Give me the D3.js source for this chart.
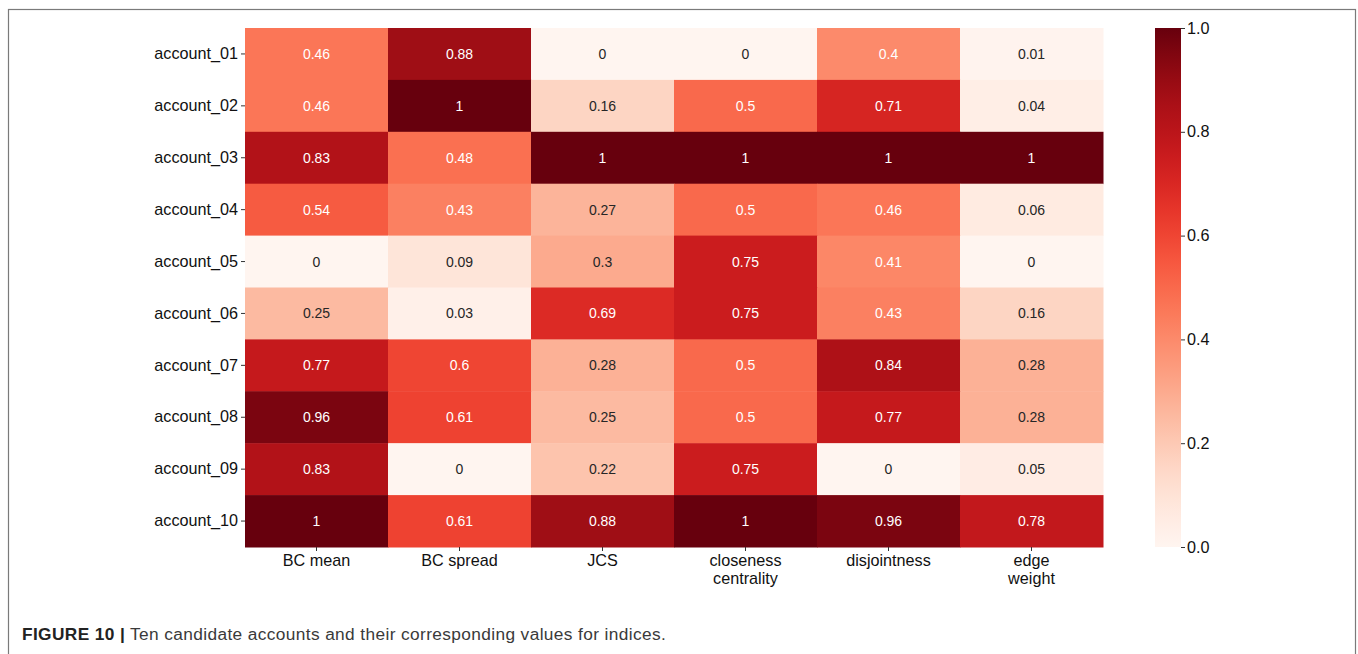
<!DOCTYPE html>
<html>
<head>
<meta charset="utf-8">
<script src="https://cdn.jsdelivr.net/npm/d3@7"></script>
<style>
  html, body { margin: 0; padding: 0; background: #fff; }
  svg { display: block; font-family: "Liberation Sans", Arial, Helvetica, sans-serif; }
</style>
</head>
<body>
<svg id="chart" width="1358" height="654"></svg>
<script>
// Accounts (rows) and indices (columns)
const accounts = ["account_01","account_02","account_03","account_04","account_05",
                  "account_06","account_07","account_08","account_09","account_10"];
const indices = ["BC mean","BC spread","JCS","closeness centrality","disjointness","edge weight"];
const indexLabelLines = [["BC mean"],["BC spread"],["JCS"],["closeness","centrality"],["disjointness"],["edge","weight"]];

// Normalised index values, one array per account
const values = [
  [0.46, 0.88, 0,    0,    0.4,  0.01],
  [0.46, 1,    0.16, 0.5,  0.71, 0.04],
  [0.83, 0.48, 1,    1,    1,    1   ],
  [0.54, 0.43, 0.27, 0.5,  0.46, 0.06],
  [0,    0.09, 0.3,  0.75, 0.41, 0   ],
  [0.25, 0.03, 0.69, 0.75, 0.43, 0.16],
  [0.77, 0.6,  0.28, 0.5,  0.84, 0.28],
  [0.96, 0.61, 0.25, 0.5,  0.77, 0.28],
  [0.83, 0,    0.22, 0.75, 0,    0.05],
  [1,    0.61, 0.88, 1,    0.96, 0.78]
];
const colorbarTicks = [0, 0.2, 0.4, 0.6, 0.8, 1.0];
const captionBold = "FIGURE 10 |";
const captionText = " Ten candidate accounts and their corresponding values for indices.";

const svg = d3.select("#chart");
const labelFont = "Liberation Sans, Arial, sans-serif";
const labelSize = 16.2;

// Figure frame
svg.append("rect")
  .attr("x", 8.5).attr("y", 9.5)
  .attr("width", 1347).attr("height", 700)
  .attr("fill", "none").attr("stroke", "#7a7a7a").attr("stroke-width", 1.2);

const plotL = 245, plotT = 28, plotR = 1103, plotB = 547;

const x = d3.scaleBand().domain(indices).range([plotL, plotR]).padding(0);
const y = d3.scaleBand().domain(accounts).range([plotT, plotB]).padding(0);
const color = d3.scaleSequential(d3.interpolateReds).domain([0, 1]);

function luminance(c) {
  const rgb = d3.rgb(c);
  const ch = [rgb.r, rgb.g, rgb.b].map(v => {
    v /= 255;
    return v <= 0.03928 ? v / 12.92 : Math.pow((v + 0.055) / 1.055, 2.4);
  });
  return 0.2126 * ch[0] + 0.7152 * ch[1] + 0.0722 * ch[2];
}

const cells = [];
values.forEach((row, i) => row.forEach((v, j) => cells.push({ acc: accounts[i], idx: indices[j], v })));

const g = svg.append("g");
g.selectAll("rect.cell").data(cells).enter().append("rect")
  .attr("class", "cell")
  .attr("x", d => x(d.idx)).attr("y", d => y(d.acc))
  .attr("width", x.bandwidth() + 0.5).attr("height", y.bandwidth() + 0.5)
  .attr("fill", d => color(d.v));

g.selectAll("text.ann").data(cells).enter().append("text")
  .attr("class", "ann")
  .attr("x", d => x(d.idx) + x.bandwidth() / 2)
  .attr("y", d => y(d.acc) + y.bandwidth() / 2)
  .attr("text-anchor", "middle").attr("dominant-baseline", "central")
  .attr("font-size", 14)
  .attr("fill", d => luminance(color(d.v)) > 0.408 ? "#262626" : "#ffffff")
  .text(d => String(d.v));

// Y axis (account names)
const yAxis = d3.axisLeft(y).tickSize(4).tickPadding(3);
const yg = svg.append("g").attr("transform", `translate(${plotL},0)`).call(yAxis);
yg.select(".domain").remove();
yg.selectAll("line").attr("stroke", "#333");
yg.selectAll("text").attr("font-size", labelSize).attr("fill", "#111")
  .attr("font-family", labelFont);

// X axis (index names, wrapped on two lines)
const xAxis = d3.axisBottom(x).tickSize(4).tickPadding(3).tickFormat("");
const xg = svg.append("g").attr("transform", `translate(0,${plotB})`).call(xAxis);
xg.select(".domain").remove();
xg.selectAll("line").attr("stroke", "#333");
xg.selectAll(".tick").each(function(d, i) {
  const t = d3.select(this).append("text")
    .attr("text-anchor", "middle").attr("y", 19)
    .attr("font-size", labelSize).attr("fill", "#111")
    .attr("font-family", labelFont);
  indexLabelLines[i].forEach((line, k) => {
    t.append("tspan").attr("x", 0).attr("dy", k === 0 ? 0 : 17.5).text(line);
  });
});

// Colour bar
const cbX = 1155, cbW = 26;
const cbScale = d3.scaleLinear().domain([0, 1]).range([plotB, plotT]);
const defs = svg.append("defs");
const grad = defs.append("linearGradient").attr("id", "cbgrad")
  .attr("x1", 0).attr("y1", 1).attr("x2", 0).attr("y2", 0);
d3.range(0, 1.0001, 0.05).forEach(t => {
  grad.append("stop").attr("offset", t).attr("stop-color", color(t));
});
svg.append("rect").attr("x", cbX).attr("y", plotT)
  .attr("width", cbW).attr("height", plotB - plotT)
  .attr("fill", "url(#cbgrad)");
const cbAxis = d3.axisRight(cbScale).tickValues(colorbarTicks).tickFormat(d3.format(".1f")).tickSize(4).tickPadding(2);
const cg = svg.append("g").attr("transform", `translate(${cbX + cbW},0)`).call(cbAxis);
cg.select(".domain").remove();
cg.selectAll("line").attr("stroke", "#333");
cg.selectAll("text").attr("font-size", labelSize).attr("fill", "#111")
  .attr("font-family", labelFont);

// Caption
const cap = svg.append("text").attr("x", 22).attr("y", 639.5)
  .attr("font-size", 17.3).attr("fill", "#222").attr("letter-spacing", 0.38)
  .attr("font-family", labelFont);
cap.append("tspan").attr("font-weight", "bold").text(captionBold);
cap.append("tspan").attr("fill", "#3a3a3a").text(captionText);
</script>
</body>
</html>
